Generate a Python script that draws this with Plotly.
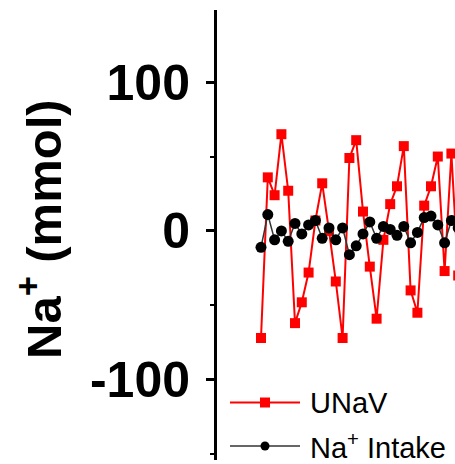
import plotly.graph_objects as go

# Daily sodium balance values (mmol)
days = list(range(1, 31))
unav = [-72, 36, 24, 65, 27, -62, -48, -28, 7, 32, 0, -34, -72, 49, 61,
        13, -24, -59, -6, 18, 30, 57, -40, -55, 17, 30, 50, -27, 52, -30]
na_intake = [-11, 11, -6, 0, -7, 5, -2, 4, 7, -5, 2, -6, 2, -16, -10,
             -2, 6, -5, 3, 1, -3, 3, -8, -1, 9, 10, 4, -8, 7, 2]
y_ticks = [-100, 0, 100]

W, H = 455, 464
ML, MR, MT, MB = 217, 0, 10, 4
PW, PH = W - ML - MR, H - MT - MB

FONT = "Liberation Sans, Arial, sans-serif"


def px_x(px):
    return (px - ML) / PW


def px_y(py):
    return (H - MB - py) / PH


fig = go.Figure()
fig.add_trace(go.Scatter(
    x=days, y=unav, mode="lines+markers", name="UNaV",
    line=dict(color="#ff0000", width=2),
    marker=dict(symbol="square", size=10, color="#ff0000"),
    showlegend=False,
))
fig.add_trace(go.Scatter(
    x=days, y=na_intake, mode="lines+markers", name="Na<sup>+</sup> Intake",
    line=dict(color="#333333", width=1.5),
    marker=dict(symbol="circle", size=11, color="#000000"),
    showlegend=False,
))

# Legend drawn in the lower-left corner of the plot area
shapes = []
annotations = []
legend_rows = [
    ("UNaV", "#ff0000", "#ff0000", "square", 402.5),
    ("Na<sup>+</sup> Intake", "#666666", "#000000", "circle", 446),
]
for label, lcol, mcol, sym, py in legend_rows:
    shapes.append(dict(type="line", xref="paper", yref="paper",
                       x0=px_x(230), x1=px_x(300), y0=px_y(py), y1=px_y(py),
                       line=dict(color=lcol, width=2)))
    half = 5 if sym == "square" else 4.5
    shapes.append(dict(type="rect" if sym == "square" else "circle",
                       xref="paper", yref="paper",
                       x0=px_x(265 - half), x1=px_x(265 + half),
                       y0=px_y(py + half), y1=px_y(py - half),
                       fillcolor=mcol, line=dict(color=mcol, width=0)))
    annotations.append(dict(text=label, xref="paper", yref="paper",
                            x=px_x(308), y=px_y(py), xanchor="left",
                            yanchor="middle", showarrow=False,
                            font=dict(family=FONT, size=29, color="#000000")))

# Y-axis title
annotations.append(dict(text="<b>Na<sup>+</sup> (mmol)</b>", xref="paper",
                        yref="paper", x=px_x(40), y=px_y(229),
                        xanchor="center", yanchor="middle", textangle=-90,
                        showarrow=False,
                        font=dict(family=FONT, size=49, color="#000000")))

fig.update_layout(
    width=W, height=H,
    margin=dict(l=ML, r=MR, t=MT, b=MB, pad=0),
    paper_bgcolor="white", plot_bgcolor="white",
    shapes=shapes, annotations=annotations,
    xaxis=dict(visible=False, range=[1 - 6.47, 1 + 28.53]),
    yaxis=dict(
        range=[-154, 148.5],
        tickvals=y_ticks, ticktext=[str(v) for v in y_ticks],
        showline=True, linecolor="black", linewidth=3,
        ticks="outside", ticklen=8, tickwidth=3, tickcolor="black",
        ticklabelstandoff=6,
        tickfont=dict(family=FONT, size=50, color="black", weight="bold"),
        minor=dict(tickvals=[-150, -50, 50], ticks="outside", ticklen=4,
                   tickwidth=2, tickcolor="black"),
        showgrid=False, zeroline=False,
    ),
)

fig.write_html("out.html")
